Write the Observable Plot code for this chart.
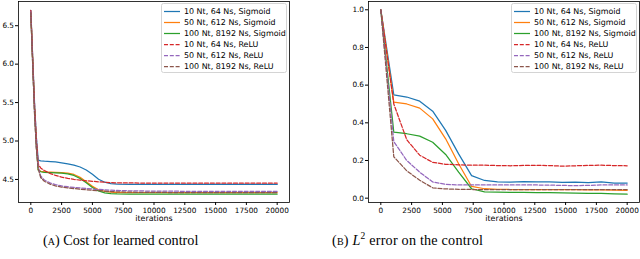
<!DOCTYPE html>
<html><head><meta charset="utf-8">
<script src="https://cdn.jsdelivr.net/npm/d3@7"></script>
<script src="https://cdn.jsdelivr.net/npm/@observablehq/plot@0.6"></script>
<style>
body{margin:0;background:#fff;}
#fig{position:relative;width:640px;height:259px;overflow:hidden;font-family:"DejaVu Sans",sans-serif;background:#fff;}
.panel{position:absolute;top:0;width:320px;height:230px;}
.legend{position:absolute;top:3px;width:126px;height:70px;background:#fff;border:0.8px solid #d4d4d4;border-radius:2.5px;box-sizing:border-box;font-size:7.95px;color:#000;}
.row{position:absolute;left:0;height:11px;line-height:11px;white-space:nowrap;}
.row svg{position:absolute;left:1px;top:0;}
.row span{position:absolute;left:22.5px;top:0;}
.cap{position:absolute;top:232px;font-family:"Liberation Serif",serif;font-size:14.2px;color:#000;white-space:nowrap;}
.sc{font-variant:small-caps;}
</style>
</head><body>
<div id="fig"></div>
<script>
// ---- data ----
const seriesNames = ["10 Nt, 64 Ns, Sigmoid","50 Nt, 612 Ns, Sigmoid","100 Nt, 8192 Ns, Sigmoid","10 Nt, 64 Ns, ReLU","50 Nt, 612 Ns, ReLU","100 Nt, 8192 Ns, ReLU"];
const xTicks = [0,2500,5000,7500,10000,12500,15000,17500,20000];
const costTicks = [4.5,5.0,5.5,6.0,6.5];
const errTicks = [0.0,0.2,0.4,0.6,0.8,1.0];

const costIter = [0,150,300,450,600,800,1100,1600,2000,2500,3000,3500,4000,4500,5000,5500,6000,6500,7000,8000,10000,12500,15000,17500,20000];
const costSig10 = [6.70,6.10,5.50,5.05,4.75,4.742,4.737,4.733,4.727,4.717,4.703,4.687,4.662,4.623,4.567,4.503,4.464,4.446,4.440,4.437,4.436,4.435,4.435,4.435,4.435];
const costSig50 = [6.68,6.05,5.42,4.95,4.63,4.606,4.599,4.595,4.592,4.588,4.582,4.565,4.527,4.470,4.410,4.366,4.344,4.334,4.330,4.328,4.327,4.327,4.327,4.327,4.327];
const costSig100 = [6.66,6.02,5.40,4.93,4.62,4.600,4.593,4.589,4.586,4.581,4.573,4.552,4.512,4.456,4.396,4.350,4.326,4.316,4.312,4.310,4.309,4.309,4.309,4.309,4.309];
const costRelu10 = [6.70,6.08,5.48,5.03,4.70,4.650,4.615,4.576,4.552,4.531,4.514,4.501,4.491,4.483,4.476,4.469,4.463,4.459,4.456,4.454,4.453,4.452,4.452,4.452,4.452];
const costRelu50 = [6.68,6.02,5.38,4.92,4.66,4.545,4.492,4.452,4.432,4.416,4.405,4.396,4.389,4.382,4.376,4.371,4.366,4.361,4.357,4.352,4.348,4.346,4.345,4.345,4.345];
const costRelu100 = [6.67,6.00,5.36,4.90,4.64,4.525,4.476,4.436,4.416,4.401,4.390,4.381,4.373,4.366,4.359,4.353,4.348,4.343,4.339,4.334,4.331,4.329,4.328,4.328,4.328];

const errIter = [0,1053,2105,3158,4211,5263,6316,7368,8421,9474,10526,11579,12632,13684,14737,15789,16842,17895,18947,20000];
const errSig10 = [1.0,0.548,0.537,0.515,0.462,0.360,0.235,0.120,0.094,0.086,0.085,0.088,0.087,0.086,0.084,0.085,0.083,0.086,0.080,0.080];
const errSig50 = [1.0,0.510,0.500,0.478,0.421,0.315,0.183,0.062,0.050,0.047,0.046,0.046,0.046,0.045,0.045,0.045,0.044,0.044,0.043,0.042];
const errSig100 = [1.0,0.350,0.342,0.329,0.297,0.232,0.138,0.050,0.033,0.032,0.031,0.031,0.030,0.029,0.028,0.027,0.026,0.025,0.023,0.021];
const errRelu10 = [1.0,0.500,0.310,0.228,0.190,0.180,0.177,0.175,0.175,0.173,0.172,0.174,0.174,0.173,0.170,0.172,0.174,0.175,0.173,0.172];
const errRelu50 = [1.0,0.300,0.200,0.138,0.086,0.073,0.070,0.070,0.070,0.070,0.070,0.070,0.070,0.069,0.068,0.066,0.068,0.070,0.070,0.070];
const errRelu100 = [1.0,0.220,0.145,0.095,0.055,0.049,0.047,0.046,0.046,0.046,0.046,0.046,0.046,0.046,0.046,0.046,0.046,0.046,0.046,0.046];

// ---- styles ----
const colors = ["#1f77b4","#ff7f0e","#2ca02c","#d62728","#9467bd","#8c564b"];
const dashed = [false,false,false,true,true,true];
const DASH = "4,1.8";

function panel(iter, series, yDomain, yTicks, marginLeft, marginRight) {
  const marks = [
    Plot.axisX({ticks: xTicks, tickFormat: "d", tickSize: 3, tickPadding: 2, label: null, fontSize: 7.3}),
    Plot.axisY({ticks: yTicks, tickFormat: ".1f", tickSize: 3, tickPadding: 1.5, label: null, fontSize: 7.3})
  ];
  series.forEach((vals, k) => {
    const rows = vals.map((v, i) => ({x: iter[i], y: v}));
    marks.push(Plot.line(rows, {x: "x", y: "y", stroke: colors[k], strokeWidth: 1.25,
      strokeDasharray: dashed[k] ? DASH : null}));
  });
  marks.push(Plot.frame({stroke: "#000", strokeWidth: 0.8}));
  marks.push(Plot.text(["iterations"], {frameAnchor: "bottom", dy: 18.5, fontSize: 7.9, fill: "#000"}));
  return Plot.plot({
    width: 320, height: 230,
    marginLeft, marginRight, marginTop: 1, marginBottom: 28,
    style: {fontFamily: "DejaVu Sans", fontSize: "7.3px", color: "#000", background: "transparent", overflow: "visible"},
    x: {domain: [-1000, 21000]},
    y: {domain: yDomain},
    marks
  });
}

function legend(left) {
  const box = document.createElement("div");
  box.className = "legend";
  box.style.left = left + "px";
  seriesNames.forEach((name, k) => {
    const row = document.createElement("div");
    row.className = "row";
    row.style.top = (2 + 11 * k) + "px";
    row.innerHTML = `<svg width="18" height="11"><line x1="1" x2="17" y1="5.5" y2="5.5" stroke="${colors[k]}" stroke-width="1.25" ${dashed[k] ? `stroke-dasharray="${DASH}"` : ""}/></svg><span>${name}</span>`;
    row.style.width = "124px";
    box.appendChild(row);
  });
  return box;
}

const fig = document.getElementById("fig");
const p1 = document.createElement("div"); p1.className = "panel"; p1.style.left = "0px";
p1.appendChild(panel(costIter, [costSig10,costSig50,costSig100,costRelu10,costRelu50,costRelu100], [4.2, 6.815], costTicks, 18, 31));
const p2 = document.createElement("div"); p2.className = "panel"; p2.style.left = "320px";
p2.appendChild(panel(errIter, [errSig10,errSig50,errSig100,errRelu10,errRelu50,errRelu100], [-0.023, 1.044], errTicks, 48, 1));
fig.appendChild(p1); fig.appendChild(p2);
fig.appendChild(legend(160.5));
fig.appendChild(legend(510.5));
const c1 = document.createElement("div"); c1.className = "cap"; c1.style.left = "43px";
c1.innerHTML = '(<span class="sc">a</span>) Cost for learned control';
const c2 = document.createElement("div"); c2.className = "cap"; c2.style.left = "332px";
c2.innerHTML = '(<span class="sc">b</span>) <i>L</i><sup style="font-size:9.5px;vertical-align:6px;line-height:0">2</sup> error on the control';
c2.style.letterSpacing = "0.2px";
fig.appendChild(c1); fig.appendChild(c2);
</script>
</body></html>
